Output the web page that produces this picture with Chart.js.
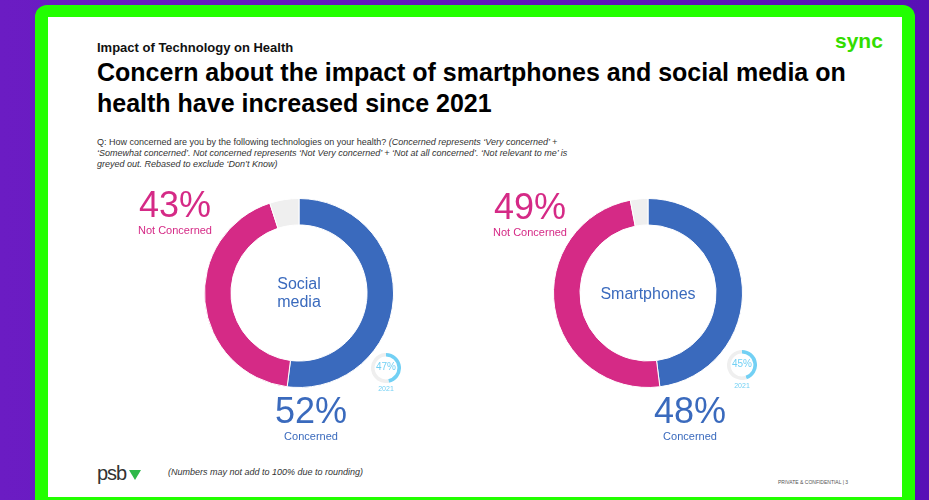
<!DOCTYPE html>
<html lang="en">
<head>
    <meta charset="utf-8">
    <title>Impact of Technology on Health</title>
    <script src="https://cdn.jsdelivr.net/npm/chart.js"></script>
    <style>
        html, body {
            margin: 0;
            padding: 0;
            width: 929px;
            height: 500px;
            overflow: hidden;
            font-family: "Liberation Sans", Arial, sans-serif;
            background: linear-gradient(90deg, #6b1cc3, #5810b6);
        }
        #frame {
            position: absolute;
            left: 35px;
            top: 5px;
            width: 880px;
            height: 510px;
            background: #22ff00;
            border-radius: 12px;
        }
        #panel {
            position: absolute;
            left: 48px;
            top: 17px;
            width: 854px;
            height: 480px;
            background: #fff;
        }
        .abs { position: absolute; white-space: nowrap; }
        .c { transform: translateX(-50%); text-align: center; }
        canvas { position: absolute; }
    </style>
</head>
<body>

<div id="frame"></div>
<div id="panel"></div>

<div class="abs" style="left:97px;top:40px;font-size:13px;font-weight:bold;color:#111;">Impact of Technology on Health</div>
<div class="abs" style="left:97px;top:57px;font-size:25px;font-weight:bold;color:#000;line-height:31px;">Concern about the impact of smartphones and social media on<br>health have increased since 2021</div>
<div class="abs" style="left:835px;top:29px;font-size:21px;font-weight:bold;color:#33dd00;">sync</div>

<div class="abs" style="left:97px;top:137px;font-size:9px;color:#333;line-height:11px;">Q: How concerned are you by the following technologies on your health? <i>(Concerned represents ‘Very concerned’ +<br>‘Somewhat concerned’. Not concerned represents ‘Not Very concerned’ + ‘Not at all concerned’. ‘Not relevant to me’ is<br>greyed out. Rebased to exclude ‘Don’t Know)</i></div>

<canvas id="big0" width="190" height="190" style="left:204px;top:198px;"></canvas>
<canvas id="big1" width="190" height="190" style="left:553px;top:198px;"></canvas>
<canvas id="small0" width="30" height="30" style="left:371px;top:353px;"></canvas>
<canvas id="small1" width="30" height="30" style="left:727px;top:350px;"></canvas>

<div id="labels"></div>

<div class="abs" style="left:97px;top:462px;font-size:20px;color:#333;letter-spacing:-1px;">psb<span style="display:inline-block;width:0;height:0;border-left:6px solid transparent;border-right:6px solid transparent;border-top:10px solid #2fb84a;margin-left:3px;"></span></div>
<div class="abs" style="left:168px;top:467px;font-size:9px;font-style:italic;color:#333;">(Numbers may not add to 100% due to rounding)</div>
<div class="abs" style="left:778px;top:479px;font-size:5px;color:#555;">PRIVATE &amp; CONFIDENTIAL | 3</div>

<script>
    // survey data
    const topics = ['Social\nmedia', 'Smartphones'];
    const segments = ['Concerned', 'Not Concerned', 'Not relevant'];
    const concerned = [52, 48];
    const notConcerned = [43, 49];
    const notRelevant = [5, 3];
    const concerned2021 = [47, 45];

    const blue = '#3a6abd';
    const pink = '#d52a86';
    const grey = '#efefef';
    const lightBlue = '#72d0f4';

    // where the labels sit for each chart
    const centers = [[299, 295], [648, 295]];
    const smallCenters = [[386, 368], [742, 365]];

    const labels = document.getElementById('labels');

    function addText(x, y, text, size, color, lh) {
        const d = document.createElement('div');
        d.className = 'abs c';
        d.style.left = x + 'px';
        d.style.top = y + 'px';
        d.style.fontSize = size + 'px';
        d.style.color = color;
        d.style.lineHeight = lh || '1.15';
        d.innerHTML = text.replace('\n', '<br>');
        labels.appendChild(d);
    }

    for (let i = 0; i < topics.length; i++) {
        new Chart(document.getElementById('big' + i), {
            type: 'doughnut',
            data: {
                labels: segments,
                datasets: [{
                    data: [concerned[i], notConcerned[i], notRelevant[i]],
                    backgroundColor: [blue, pink, grey],
                    borderColor: '#fff',
                    borderWidth: 1
                }]
            },
            options: {
                responsive: false,
                animation: false,
                cutout: '72%',
                events: [],
                plugins: { legend: { display: false }, tooltip: { enabled: false } }
            }
        });

        new Chart(document.getElementById('small' + i), {
            type: 'doughnut',
            data: {
                labels: ['2021', ''],
                datasets: [{
                    data: [concerned2021[i], 100 - concerned2021[i]],
                    backgroundColor: [lightBlue, grey],
                    borderWidth: 0
                }]
            },
            options: {
                responsive: false,
                animation: false,
                cutout: '76%',
                events: [],
                plugins: { legend: { display: false }, tooltip: { enabled: false } }
            }
        });

        const [cx, cy] = centers[i];
        const lines = topics[i].split('\n').length;
        addText(cx, cy - 10 * lines, topics[i], 16, blue);

        const [sx, sy] = smallCenters[i];
        addText(sx, sy - 7, concerned2021[i] + '%', 10, lightBlue);
        addText(sx, sy + 17, '2021', 7, lightBlue);
    }

    // big percentage labels
    addText(175, 189, notConcerned[0] + '%', 36, pink, '0.9');
    addText(175, 225, 'Not Concerned', 11, pink, '1');
    addText(311, 395, concerned[0] + '%', 36, blue, '0.9');
    addText(311, 431, 'Concerned', 11, blue, '1');

    addText(530, 191, notConcerned[1] + '%', 36, pink, '0.9');
    addText(530, 227, 'Not Concerned', 11, pink, '1');
    addText(690, 395, concerned[1] + '%', 36, blue, '0.9');
    addText(690, 431, 'Concerned', 11, blue, '1');
</script>

</body>
</html>
